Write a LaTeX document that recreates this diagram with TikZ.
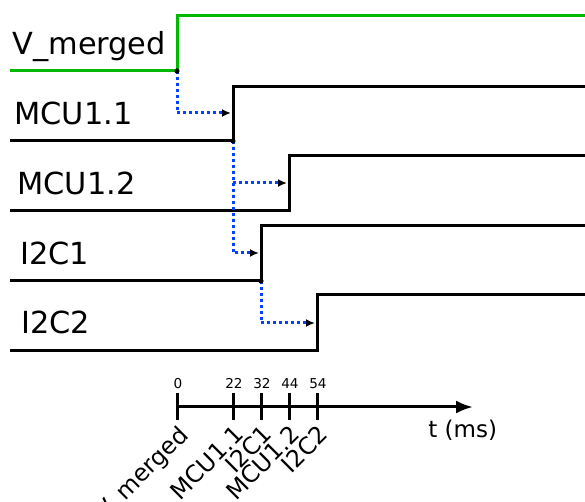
\documentclass[tikz,border=0pt]{standalone}
\usepackage{fontspec}
\setmainfont{DejaVu Sans}
\usetikzlibrary{arrows.meta}

\definecolor{vgreen}{RGB}{0,184,0}
\definecolor{trigblue}{RGB}{0,68,255}

\begin{document}
\begin{tikzpicture}[
  x=0.5pt, y=-0.5pt,
  signal/.style={line width=1.5pt, black},
  vsignal/.style={line width=1.5pt, vgreen},
  trigger/.style={line width=1.5pt, trigblue, dash pattern=on 1.5pt off 1.5pt,
    -{Latex[length=4.5pt,width=4pt,black]}},
  siglabel/.style={anchor=base west, inner sep=0pt,
    font=\fontsize{15.2}{18}\selectfont},
  ticklabel/.style={anchor=north east, rotate=45, inner sep=0.5pt,
    font=\fontsize{11.8}{14}\selectfont},
  tickvalue/.style={anchor=base, inner sep=0pt,
    font=\fontsize{6.8}{8}\selectfont},
  axisline/.style={line width=1.5pt, -{Latex[length=8.5pt,width=6.5pt]}},
  tickmark/.style={line width=1.5pt}
]
  \useasboundingbox (0,0) rectangle (585,502);

  % === Signals ===
  % V_merged
  \coordinate (vm-l) at (10,71);
  \coordinate (vm-e) at (177,71);
  \coordinate (vm-r) at (590,16);
  \node[siglabel] (vm-lab) at (12,55) {V\_merged};
  \draw[vsignal] (vm-l) -- (vm-e) |- (vm-r);

  % MCU1.1
  \coordinate (m11-l) at (10,141);
  \coordinate (m11-e) at (233,141);
  \coordinate (m11-r) at (590,87);
  \coordinate (m11-in) at (231,113);
  \node[siglabel] (m11-lab) at (14,125) {MCU1.1};
  \draw[signal] (m11-l) -- (m11-e) |- (m11-r);

  % MCU1.2
  \coordinate (m12-l) at (10,211);
  \coordinate (m12-e) at (289,211);
  \coordinate (m12-r) at (590,156);
  \coordinate (m12-in) at (287,183);
  \node[siglabel] (m12-lab) at (17,195) {MCU1.2};
  \draw[signal] (m12-l) -- (m12-e) |- (m12-r);

  % I2C1
  \coordinate (i1-l) at (10,281);
  \coordinate (i1-e) at (261,281);
  \coordinate (i1-r) at (590,226);
  \coordinate (i1-in) at (259,253);
  \node[siglabel] (i1-lab) at (20,265) {I2C1};
  \draw[signal] (i1-l) -- (i1-e) |- (i1-r);

  % I2C2
  \coordinate (i2-l) at (10,351);
  \coordinate (i2-e) at (317,351);
  \coordinate (i2-r) at (590,295);
  \coordinate (i2-in) at (315,323);
  \node[siglabel] (i2-lab) at (21,334) {I2C2};
  \draw[signal] (i2-l) -- (i2-e) |- (i2-r);

  % === Triggers ===
  \draw[trigger] (vm-e) |- (m11-in);
  \draw[trigger] (m11-e) |- (m12-in);
  \draw[trigger] (m11-e) |- (i1-in);
  \draw[trigger] (i1-e) |- (i2-in);

  \fill (vm-e) circle (1.3pt);
  \fill (m11-e) circle (1.3pt);
  \fill (i1-e) circle (1.3pt);

  % === Time axis ===
  \coordinate (ax-start) at (177,407);
  \coordinate (ax-end) at (473,407);
  \draw[axisline] (ax-start) -- (ax-end);
  \node[anchor=base west, inner sep=0pt, font=\fontsize{11.5}{14}\selectfont]
    (ax-unit) at (428,438) {t (ms)};

  % Ticks
  \draw[tickmark] (177,393) coordinate (t0-top) -- (177,420) coordinate (t0-bot);
  \draw[tickmark] (233,393) coordinate (t1-top) -- (233,420) coordinate (t1-bot);
  \draw[tickmark] (261,393) coordinate (t2-top) -- (261,420) coordinate (t2-bot);
  \draw[tickmark] (289,393) coordinate (t3-top) -- (289,420) coordinate (t3-bot);
  \draw[tickmark] (317,393) coordinate (t4-top) -- (317,420) coordinate (t4-bot);

  % Tick values
  \node[tickvalue] (tv0) at (178,389) {0};
  \node[tickvalue] (tv1) at (234,389) {22};
  \node[tickvalue] (tv2) at (262,389) {32};
  \node[tickvalue] (tv3) at (290,389) {44};
  \node[tickvalue] (tv4) at (318,389) {54};

  % Tick labels
  \node[ticklabel] (tl0) at (177,422) {V\_merged};
  \node[ticklabel] (tl1) at (233,422) {MCU1.1};
  \node[ticklabel] (tl2) at (261,422) {I2C1};
  \node[ticklabel] (tl3) at (289,422) {MCU1.2};
  \node[ticklabel] (tl4) at (317,422) {I2C2};
\end{tikzpicture}
\end{document}
